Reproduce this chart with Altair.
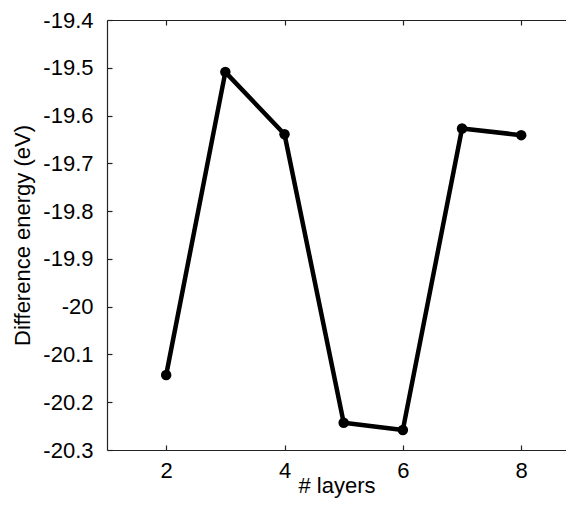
import altair as alt
import pandas as pd

layers = [2, 3, 4, 5, 6, 7, 8]
energy = [-20.143, -19.509, -19.639, -20.243, -20.258, -19.627, -19.641]
x_ticks = [2, 4, 6, 8]
y_ticks = [-20.3, -20.2, -20.1, -20.0, -19.9, -19.8, -19.7, -19.6, -19.5, -19.4]

df = pd.DataFrame({"layers": layers, "energy": energy})

FONT = "Liberation Sans"
INK = "#222222"

y_enc = alt.Y(
    "energy:Q",
    scale=alt.Scale(domain=[-20.3, -19.4], nice=False, zero=False),
    axis=alt.Axis(
        title="Difference energy (eV)",
        values=y_ticks,
        labelExpr="'' + datum.value",
        tickSize={"expr": "-5"},
        labelPadding=19,
        titlePadding=8,
        domain=True,
        grid=False,
    ),
)

x_scale = alt.Scale(domain=[1, 8.757], nice=False, zero=False)

line = alt.Chart(df).mark_line(color="black", strokeWidth=4.5, strokeJoin="round").encode(
    x=alt.X(
        "layers:Q",
        scale=x_scale,
        axis=alt.Axis(
            title="# layers",
            values=x_ticks,
            tickSize={"expr": "-5"},
            labelPadding=15,
            titlePadding=-6,
            domain=True,
            grid=False,
        ),
    ),
    y=y_enc,
)

points = alt.Chart(df).mark_circle(color="black", opacity=1, size=110).encode(
    x=alt.X(
        "layers:Q",
        scale=x_scale,
        axis=alt.Axis(
            orient="top",
            title=None,
            labels=False,
            values=x_ticks,
            tickSize={"expr": "-5"},
            domain=True,
            grid=False,
        ),
    ),
    y=y_enc,
)

chart = (
    alt.layer(line, points)
    .resolve_axis(x="independent")
    .properties(
        width=459,
        height=430,
        padding={"left": 99, "top": 12, "right": 0, "bottom": 50},
        autosize=alt.AutoSizeParams(type="none"),
    )
    .configure_view(stroke=None)
    .configure_axis(
        labelFont=FONT,
        titleFont=FONT,
        labelFontSize=22,
        titleFontSize=22,
        labelColor="black",
        titleColor="black",
        titleFontWeight="normal",
        tickColor=INK,
        tickWidth=1.2,
        domainColor=INK,
        domainWidth=1.2,
    )
)

chart.save("out.html", embed_options={"renderer": "svg", "actions": False})
